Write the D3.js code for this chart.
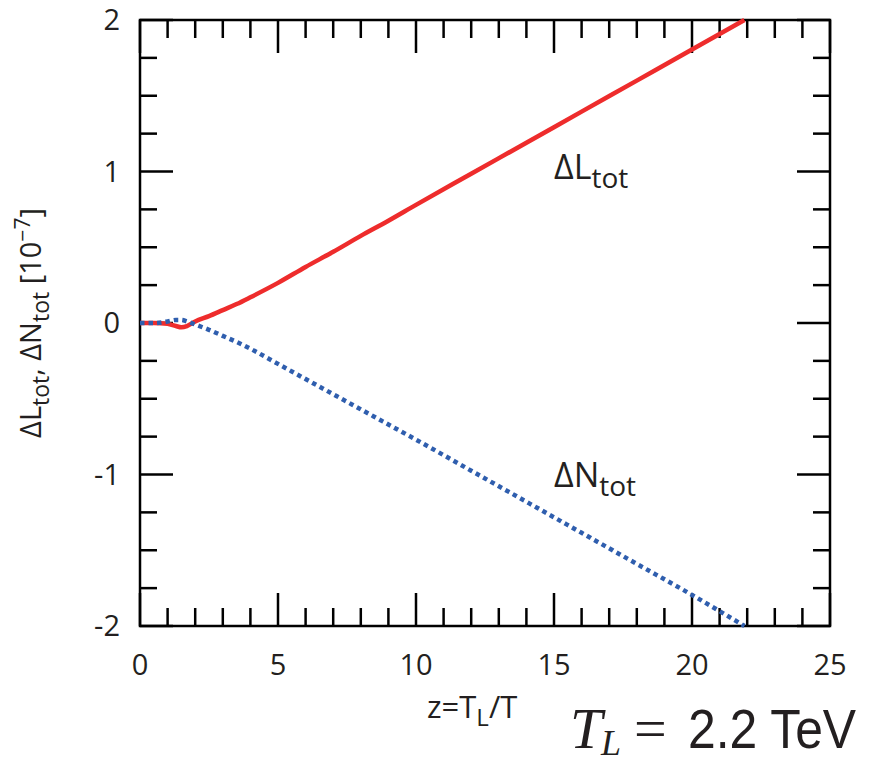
<!DOCTYPE html>
<html>
<head>
<meta charset="utf-8">
<script src="https://cdn.jsdelivr.net/npm/d3@7"></script>
<style>
  html, body { margin: 0; padding: 0; background: #fff; }
  svg { display: block; }
  text { fill: #231f20; }
</style>
</head>
<body>
<svg id="chart" width="871" height="764"></svg>
<script>
// z = T_L / T sample points
const zValues = [0, 0.5, 1.0, 1.3, 1.5, 1.7, 2.0, 2.5, 3, 3.5, 4, 5, 6, 7, 8, 9, 10, 12, 14, 16, 18, 20, 21.9];
// ΔL_tot in units of 1e-7
const deltaL = [0, 0, -0.005, -0.02, -0.028, -0.02, 0.01, 0.045, 0.085, 0.125, 0.17, 0.265, 0.37, 0.47, 0.575, 0.675, 0.78, 0.985, 1.19, 1.395, 1.6, 1.805, 2.0];
// ΔN_tot in units of 1e-7
const deltaN = [0, 0, 0.01, 0.02, 0.02, 0.01, -0.01, -0.045, -0.085, -0.125, -0.17, -0.27, -0.37, -0.47, -0.57, -0.67, -0.77, -0.975, -1.18, -1.385, -1.59, -1.795, -2.0];

const xMajorTicks = [0, 5, 10, 15, 20, 25];
const yMajorTicks = [2, 1, 0, -1, -2];

(function draw() {
  const svg = d3.select("#chart");
  const pLeft = 140, pRight = 830, pTop = 20, pBottom = 626;

  const x = d3.scaleLinear().domain([0, 25]).range([pLeft, pRight]);
  const y = d3.scaleLinear().domain([-2, 2]).range([pBottom, pTop]);

  const labelFont = "'Open Sans', 'DejaVu Sans', sans-serif";

  // inward ticks on all four sides
  const xMinor = d3.range(0, 25.001, 1);
  const yMinor = d3.range(-2, 2.001, 0.25);
  const isMajorX = v => Math.abs(v / 5 - Math.round(v / 5)) < 1e-6;
  const isMajorY = v => Math.abs(v - Math.round(v)) < 1e-6;

  const tickG = svg.append("g").attr("stroke", "#000").attr("stroke-width", 2.5);
  xMinor.forEach(v => {
    const len = isMajorX(v) ? 33 : 18;
    tickG.append("line").attr("x1", x(v)).attr("x2", x(v)).attr("y1", pBottom).attr("y2", pBottom - len);
    tickG.append("line").attr("x1", x(v)).attr("x2", x(v)).attr("y1", pTop).attr("y2", pTop + len);
  });
  yMinor.forEach(v => {
    const len = isMajorY(v) ? 33 : 17;
    tickG.append("line").attr("x1", pLeft).attr("x2", pLeft + len).attr("y1", y(v)).attr("y2", y(v));
    tickG.append("line").attr("x1", pRight).attr("x2", pRight - len).attr("y1", y(v)).attr("y2", y(v));
  });

  // frame
  svg.append("rect")
    .attr("x", pLeft).attr("y", pTop)
    .attr("width", pRight - pLeft).attr("height", pBottom - pTop)
    .attr("fill", "none").attr("stroke", "#000").attr("stroke-width", 2.5);

  // tick labels
  svg.append("g").selectAll("text").data(xMajorTicks).join("text")
    .attr("x", d => x(d)).attr("y", 675)
    .attr("text-anchor", "middle")
    .style("font-family", labelFont).style("font-size", "29px")
    .text(d => d);

  svg.append("g").selectAll("text").data(yMajorTicks).join("text")
    .attr("x", 120).attr("y", d => y(d))
    .attr("dy", "0.36em")
    .attr("text-anchor", "end")
    .style("font-family", labelFont).style("font-size", "29px")
    .text(d => d);

  // curves
  const line = d3.line().curve(d3.curveMonotoneX);

  svg.append("path")
    .attr("d", line(zValues.map((z, i) => [x(z), y(deltaL[i])])))
    .attr("fill", "none").attr("stroke", "#ee2c2c").attr("stroke-width", 4.5);

  svg.append("path")
    .attr("d", line(zValues.map((z, i) => [x(z), y(deltaN[i])])))
    .attr("fill", "none").attr("stroke", "#2f5eae").attr("stroke-width", 4.5)
    .attr("stroke-dasharray", "4.5,4");

  // curve annotations
  function deltaLabel(xp, yp, main) {
    const t = svg.append("text").attr("x", xp).attr("y", yp)
      .style("font-family", labelFont).style("font-size", "34px");
    t.append("tspan").text("Δ" + main);
    t.append("tspan").attr("dy", 9).style("font-size", "28px").text("tot");
  }
  deltaLabel(554, 179, "L");
  deltaLabel(554, 487, "N");

  // y-axis title
  const yt = svg.append("text")
    .attr("transform", "translate(41,323) rotate(-90)")
    .attr("text-anchor", "middle")
    .style("font-family", labelFont).style("font-size", "29px");
  yt.append("tspan").text("ΔL");
  yt.append("tspan").attr("dy", 8).style("font-size", "23px").text("tot");
  yt.append("tspan").attr("dy", -8).text(", ΔN");
  yt.append("tspan").attr("dy", 8).style("font-size", "23px").text("tot");
  yt.append("tspan").attr("dy", -8).text(" [10");
  yt.append("tspan").attr("dy", -11).style("font-size", "21px").text("−7");
  yt.append("tspan").attr("dy", 11).text("]");

  // x-axis title
  const xt = svg.append("text")
    .attr("x", 427).attr("y", 718)
    .style("font-family", labelFont).style("font-size", "31px");
  xt.append("tspan").text("z=T");
  xt.append("tspan").attr("dy", 8).style("font-size", "24px").text("L");
  xt.append("tspan").attr("dy", -8).text("/T");

  // temperature note
  const serif = "'Liberation Serif', 'Times New Roman', serif";
  svg.append("text").attr("x", 570).attr("y", 748)
    .style("font-family", serif).style("font-style", "italic").style("font-size", "58px").text("T");
  svg.append("text").attr("x", 601).attr("y", 755)
    .style("font-family", serif).style("font-style", "italic").style("font-size", "36px").text("L");
  svg.append("text").attr("x", 634).attr("y", 748)
    .style("font-family", serif).style("font-size", "58px").text("=");
  svg.append("text")
    .attr("transform", "translate(688,748) scale(0.89,1)")
    .style("font-family", "'Liberation Sans', Arial, sans-serif").style("font-size", "56px").text("2.2 TeV");
})();
</script>
</body>
</html>
